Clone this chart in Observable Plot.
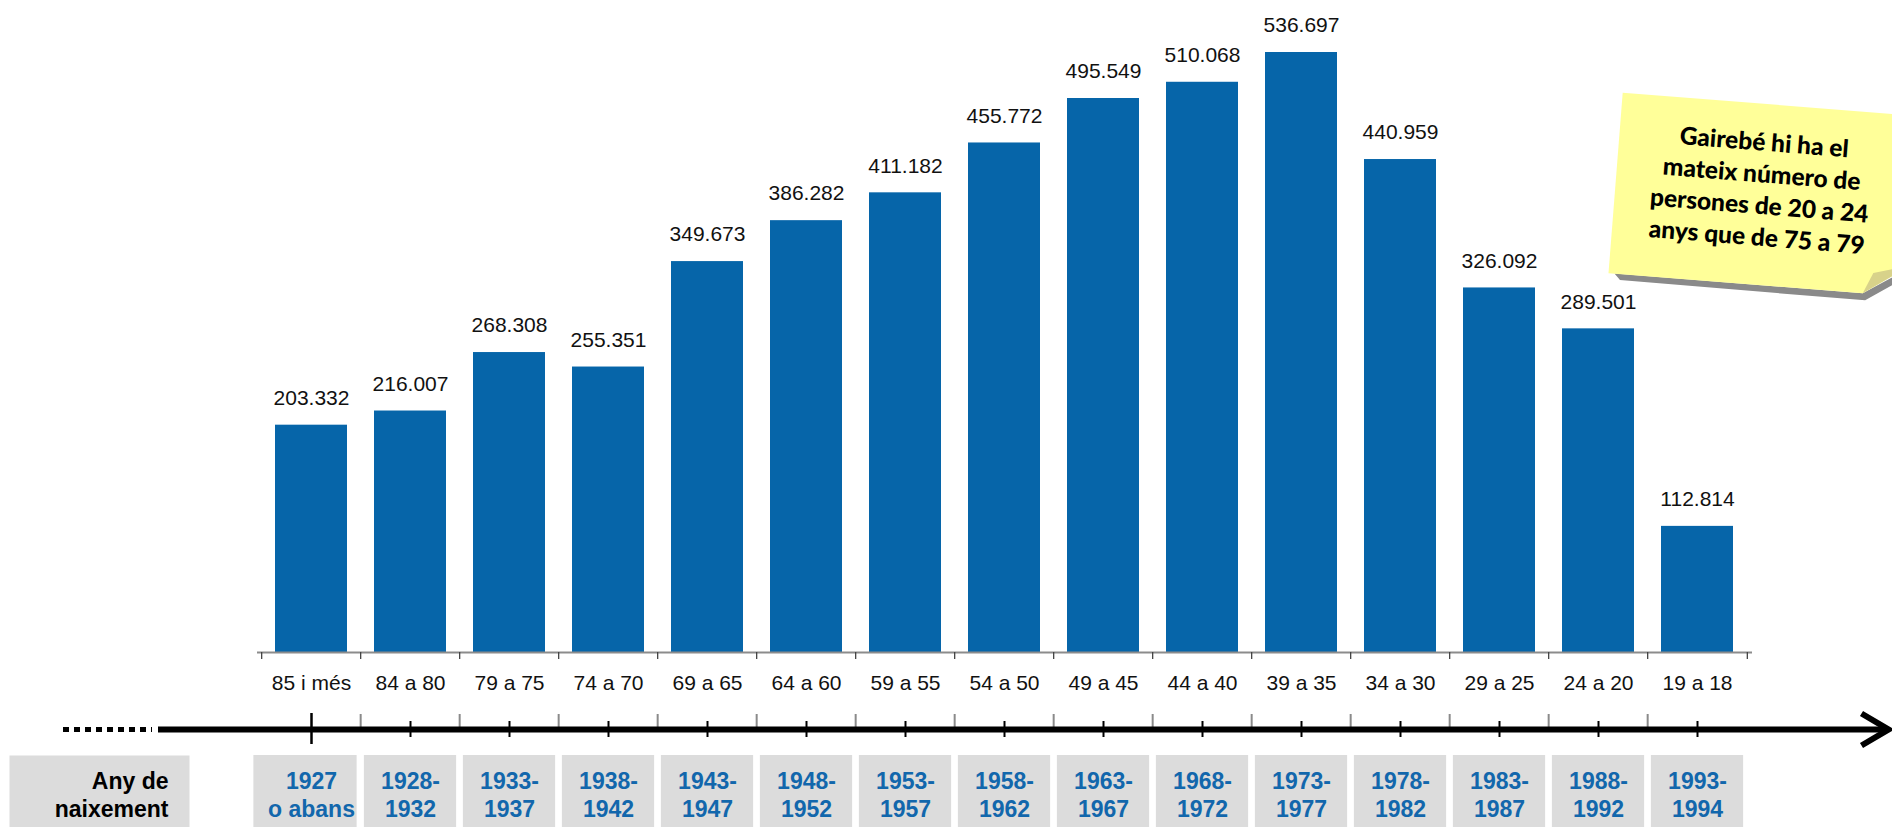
<!DOCTYPE html>
<html>
<head>
<meta charset="utf-8">
<script src="https://cdn.jsdelivr.net/npm/d3@7"></script>
<script src="https://cdn.jsdelivr.net/npm/@observablehq/plot@0.6"></script>
<style>
  html, body { margin: 0; padding: 0; background: #fff; overflow: hidden; }
  #wrap { position: relative; width: 1892px; height: 827px; overflow: hidden; }
  #wrap svg { display: block; }
</style>
</head>
<body>
<div id="wrap"></div>
<script>
// ---- data ----
const ageGroups = ["85 i més", "84 a 80", "79 a 75", "74 a 70", "69 a 65", "64 a 60", "59 a 55", "54 a 50",
                   "49 a 45", "44 a 40", "39 a 35", "34 a 30", "29 a 25", "24 a 20", "19 a 18"];
const population = [203332, 216007, 268308, 255351, 349673, 386282, 411182, 455772,
                    495549, 510068, 536697, 440959, 326092, 289501, 112814];
const birthYears = ["1927\no abans", "1928-\n1932", "1933-\n1937", "1938-\n1942", "1943-\n1947", "1948-\n1952",
                    "1953-\n1957", "1958-\n1962", "1963-\n1967", "1968-\n1972", "1973-\n1977", "1978-\n1982",
                    "1983-\n1987", "1988-\n1992", "1993-\n1994"];
const rowLabel = "Any de\nnaixement";
const noteLines = ["Gairebé hi ha el", "mateix número de", "persones de 20 a 24", "anys que de 75 a 79"];

// ---- layout ----
const W = 1892, H = 827;
const mL = 257, mR = 140, mT = 52, mB = 175;
const frameH = H - mT - mB;
const padIn = 0.27;
const step = (W - mL - mR) / ageGroups.length;
const bw = step * (1 - padIn);
const BLUE = "#0665a9";
const TXTBLUE = "#1267ac";
const GRAY = "#dcdcdc";

const data = ageGroups.map((g, i) => ({group: g, value: population[i], birth: birthYears[i]}));
const fmt = d3.formatLocale({decimal: ",", thousands: ".", grouping: [3]}).format(",d");

// vertical extent below the baseline (pixels below the bars' baseline)
const below = (top, bottom) => ({insetTop: frameH + top, insetBottom: -bottom});
// horizontal extent of a cell relative to the band centre
const around = (left, right) => ({insetLeft: bw / 2 - left, insetRight: bw / 2 - right});

const chevron = {
  draw(ctx) {
    ctx.moveTo(-27, -16);
    ctx.lineTo(0, 0);
    ctx.lineTo(-27, 16);
  }
};

const plot = Plot.plot({
  width: W, height: H,
  marginLeft: mL, marginRight: mR, marginTop: mT, marginBottom: mB,
  style: {fontFamily: "'Liberation Sans', Arial, sans-serif", background: "transparent", color: "black"},
  x: {domain: ageGroups, paddingInner: padIn, paddingOuter: padIn / 2, axis: null},
  y: {domain: [0, d3.max(population)], axis: null},
  marks: [
    // bars
    Plot.barY(data, {x: "group", y: "value", fill: BLUE}),
    // category axis line and boundary ticks
    Plot.ruleY([0], {stroke: "#8c8c8c", strokeWidth: 2}),
    Plot.ruleX(data, {x: "group", dx: -step / 2, stroke: "#444", strokeWidth: 1.3, ...below(0, 7)}),
    Plot.ruleX(data.slice(-1), {x: "group", dx: step / 2, stroke: "#444", strokeWidth: 1.3, ...below(0, 7)}),
    // value labels
    Plot.text(data, {x: "group", y: "value", text: d => fmt(d.value), dy: -27, fontSize: 21, fill: "#111", lineAnchor: "middle"}),
    // category labels
    Plot.text(data, {x: "group", frameAnchor: "bottom", lineAnchor: "middle", text: "group", dy: 31, fontSize: 21, fill: "#111"}),
    // timeline: grey boundary ticks
    Plot.ruleX(data.slice(1), {x: "group", dx: -step / 2, stroke: "#8a8a8a", strokeWidth: 2, ...below(62, 77)}),
    // timeline line, dotted lead-in and arrowhead
    Plot.ruleY([0], {dy: 77, stroke: "black", strokeWidth: 6, insetLeft: -(mL - 158), insetRight: -(1885 - (W - mR))}),
    Plot.ruleY([0], {dy: 77, stroke: "black", strokeWidth: 5, strokeDasharray: "6,5", insetLeft: -(mL - 63), insetRight: (W - mR) - 152}),
    Plot.dot([0], {frameAnchor: "bottom-right", dx: 1888 - (W - mR), dy: 77, symbol: chevron, r: 10,
                   fill: "none", stroke: "black", strokeWidth: 6, strokeLinejoin: "miter", strokeLinecap: "butt"}),
    // timeline: black ticks at band centres
    Plot.ruleX(data.slice(0, 1), {x: "group", stroke: "black", strokeWidth: 2.5, ...below(61, 92)}),
    Plot.ruleX(data.slice(1), {x: "group", stroke: "black", strokeWidth: 2, ...below(69, 85)}),
    // birth-year boxes
    Plot.frame({fill: GRAY, stroke: "none", insetLeft: -(mL - 9), insetRight: (W - mR) - 189, ...below(103, 175)}),
    Plot.cell(data.slice(0, 1), {x: "group", fill: GRAY, ...around(58, 46), ...below(103, 175)}),
    Plot.cell(data.slice(1), {x: "group", fill: GRAY, ...around(46.5, 46.5), ...below(103, 175)}),
    Plot.text([rowLabel], {frameAnchor: "bottom-left", lineAnchor: "middle", dx: 168 - mL, dy: 142, textAnchor: "end",
                           fontSize: 23, fontWeight: "bold", fill: "black", lineHeight: 28 / 23}),
    Plot.text(data, {x: "group", frameAnchor: "bottom", lineAnchor: "middle", text: "birth", dy: 142,
                     fontSize: 23, fontWeight: "bold", fill: TXTBLUE, lineHeight: 28 / 23})
  ]
});

const wrap = document.getElementById("wrap");
wrap.appendChild(plot);

// ---- sticky note annotation ----
const note = d3.select(wrap).append("svg")
  .attr("width", W).attr("height", H)
  .style("position", "absolute").style("left", "0px").style("top", "0px");
const g = note.append("g").attr("transform", "translate(1622.7,92.7) rotate(4.5)");
g.append("polygon").attr("points", "6,181 255,181 300,152 300,160 258,188 12,187").attr("fill", "#8a8a8a");
g.append("polygon").attr("points", "0,0 300,0 300,150 255,181 0,181").attr("fill", "#ffff99");
g.append("polygon").attr("points", "255,181 264,160 300,150").attr("fill", "#d8d28a");
g.selectAll("text").data(noteLines).join("text")
  .attr("x", 145)
  .attr("y", (d, i) => 38 + i * 31.7)
  .attr("dy", "0.36em")
  .attr("text-anchor", "middle")
  .attr("font-family", "Lato, 'Open Sans', sans-serif")
  .attr("font-weight", "900")
  .attr("font-size", 24.5)
  .attr("fill", "black")
  .text(d => d);
</script>
</body>
</html>
